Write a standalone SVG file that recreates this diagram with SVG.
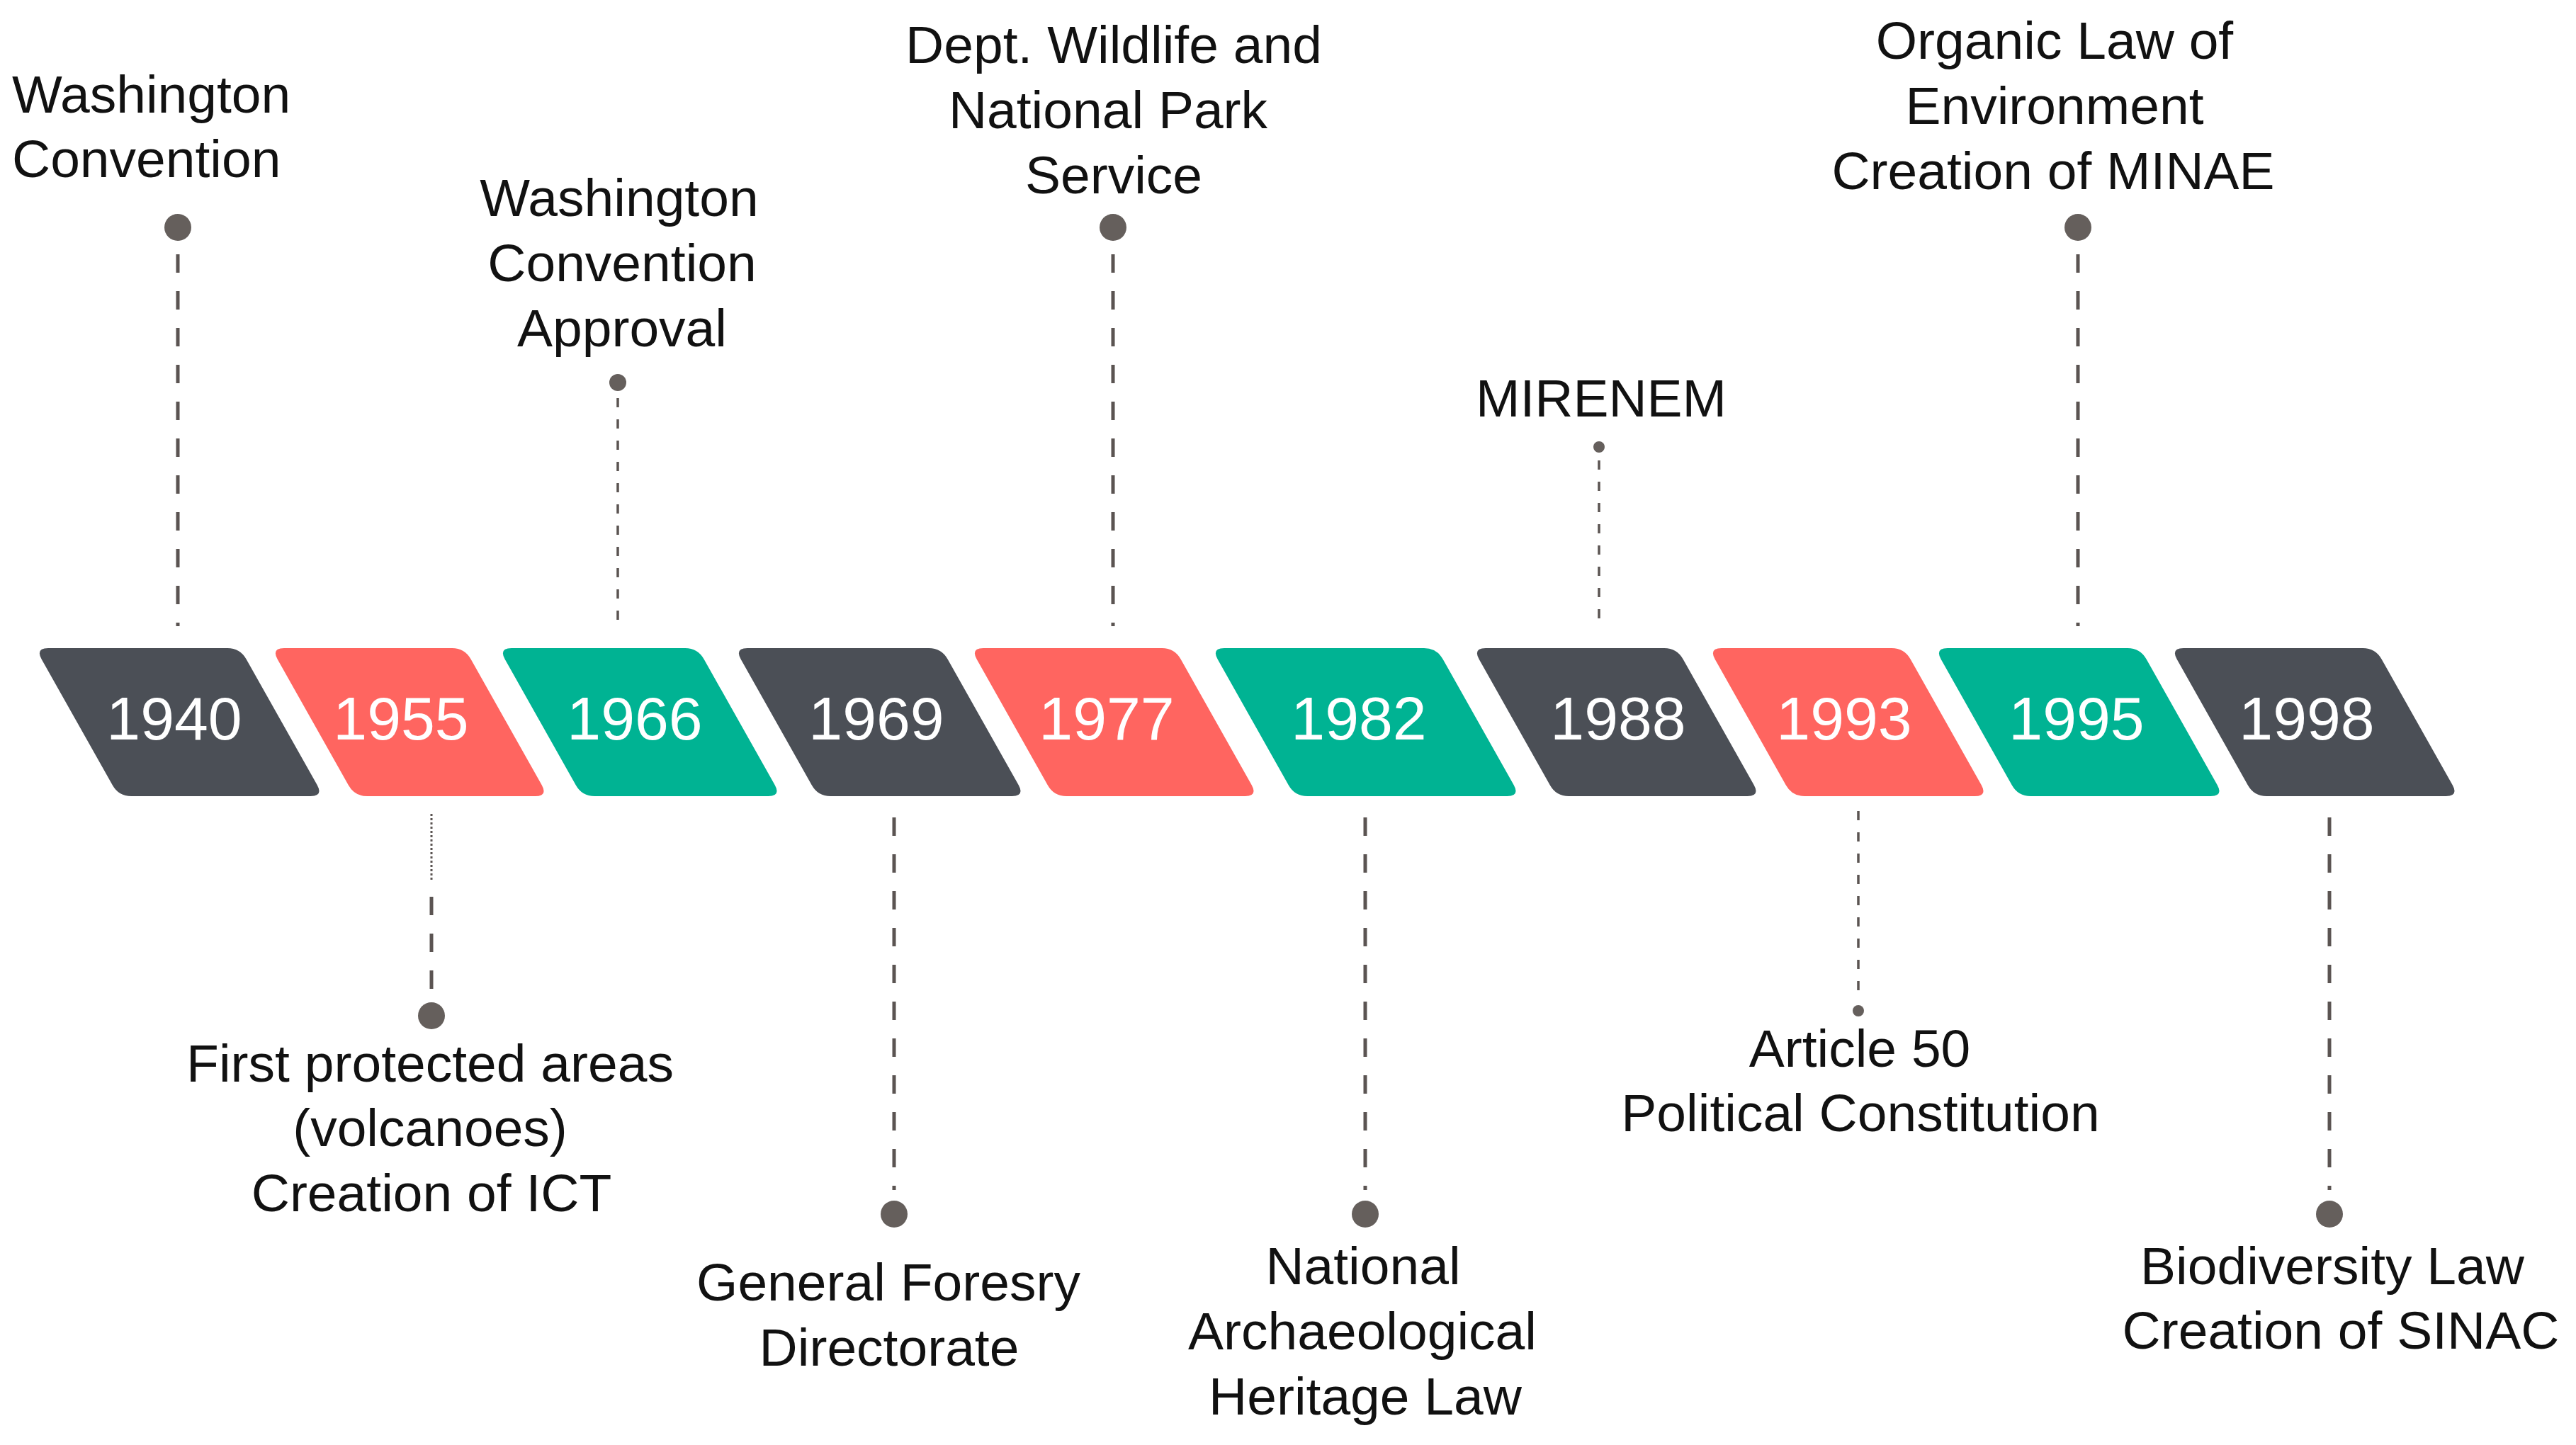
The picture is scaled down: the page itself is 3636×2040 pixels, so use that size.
<svg xmlns="http://www.w3.org/2000/svg" width="3636" height="2040" viewBox="0 0 3636 2040">
<style>
.dark{fill:#4b4f56}.red{fill:#ff6560}.teal{fill:#00b393}
.yr{font-family:"Liberation Sans",Arial,sans-serif;font-size:86px;fill:#ffffff;text-anchor:middle}
.lbl{font-family:"Liberation Sans",Arial,sans-serif;font-size:75px;fill:#111111;text-anchor:middle}
.thick{stroke:#5b5452;stroke-width:5;stroke-dasharray:26 26;fill:none}
.thin{stroke:#5b5452;stroke-width:3.5;stroke-dasharray:13 17;fill:none}
.fine{stroke:#5b5452;stroke-width:3;stroke-dasharray:3 3;fill:none}
.dot{fill:#655f5c}
</style>
<rect width="3636" height="2040" fill="#ffffff"/>
<g id="connectors">
<line class="thick" x1="251" y1="359" x2="251" y2="884"/>
<line class="thin" x1="872" y1="562" x2="872" y2="886"/>
<line class="thick" x1="1571" y1="359" x2="1571" y2="884"/>
<line class="thin" x1="2257" y1="650" x2="2257" y2="890"/>
<line class="thick" x1="2933" y1="359" x2="2933" y2="884"/>
<line class="fine" x1="609" y1="1149" x2="609" y2="1245"/>
<line class="thick" x1="609" y1="1266" x2="609" y2="1400"/>
<line class="thick" x1="1262" y1="1154" x2="1262" y2="1680"/>
<line class="thick" x1="1927" y1="1154" x2="1927" y2="1680"/>
<line class="thin" x1="2623" y1="1145" x2="2623" y2="1415"/>
<line class="thick" x1="3288" y1="1154" x2="3288" y2="1680"/>
<circle class="dot" cx="251" cy="321" r="19"/>
<circle class="dot" cx="872" cy="540" r="12"/>
<circle class="dot" cx="1571" cy="321" r="19"/>
<circle class="dot" cx="2257" cy="631" r="8"/>
<circle class="dot" cx="2933" cy="321" r="19"/>
<circle class="dot" cx="609" cy="1434" r="19"/>
<circle class="dot" cx="1262" cy="1714" r="19"/>
<circle class="dot" cx="1927" cy="1714" r="19"/>
<circle class="dot" cx="2623" cy="1427" r="8"/>
<circle class="dot" cx="3288" cy="1714" r="19"/>
</g>
<g id="y1940"><path class="dark" d="M68,915 h253 q18,0 26.7,15.8 l100,177.4 q8.7,15.8 -9.3,15.8 h-253 q-18,0 -26.7,-15.8 l-100,-177.4 q-8.7,-15.8 9.3,-15.8 z"/><text class="yr" x="246" y="1044">1940</text></g>
<g id="y1955"><path class="red" d="M401,915 h237 q18,0 26.7,15.8 l100,177.4 q8.7,15.8 -9.3,15.8 h-237 q-18,0 -26.7,-15.8 l-100,-177.4 q-8.7,-15.8 9.3,-15.8 z"/><text class="yr" x="566" y="1044">1955</text></g>
<g id="y1966"><path class="teal" d="M722,915 h245 q18,0 26.7,15.8 l100,177.4 q8.7,15.8 -9.3,15.8 h-245 q-18,0 -26.7,-15.8 l-100,-177.4 q-8.7,-15.8 9.3,-15.8 z"/><text class="yr" x="896" y="1044">1966</text></g>
<g id="y1969"><path class="dark" d="M1055,915 h256 q18,0 26.7,15.8 l100,177.4 q8.7,15.8 -9.3,15.8 h-256 q-18,0 -26.7,-15.8 l-100,-177.4 q-8.7,-15.8 9.3,-15.8 z"/><text class="yr" x="1237" y="1044">1969</text></g>
<g id="y1977"><path class="red" d="M1388,915 h252 q18,0 26.7,15.8 l100,177.4 q8.7,15.8 -9.3,15.8 h-252 q-18,0 -26.7,-15.8 l-100,-177.4 q-8.7,-15.8 9.3,-15.8 z"/><text class="yr" x="1562" y="1044">1977</text></g>
<g id="y1982"><path class="teal" d="M1728,915 h282 q18,0 26.7,15.8 l100,177.4 q8.7,15.8 -9.3,15.8 h-282 q-18,0 -26.7,-15.8 l-100,-177.4 q-8.7,-15.8 9.3,-15.8 z"/><text class="yr" x="1918" y="1044">1982</text></g>
<g id="y1988"><path class="dark" d="M2097,915 h252 q18,0 26.7,15.8 l100,177.4 q8.7,15.8 -9.3,15.8 h-252 q-18,0 -26.7,-15.8 l-100,-177.4 q-8.7,-15.8 9.3,-15.8 z"/><text class="yr" x="2284" y="1044">1988</text></g>
<g id="y1993"><path class="red" d="M2430,915 h240 q18,0 26.7,15.8 l100,177.4 q8.7,15.8 -9.3,15.8 h-240 q-18,0 -26.7,-15.8 l-100,-177.4 q-8.7,-15.8 9.3,-15.8 z"/><text class="yr" x="2603" y="1044">1993</text></g>
<g id="y1995"><path class="teal" d="M2749,915 h254 q18,0 26.7,15.8 l100,177.4 q8.7,15.8 -9.3,15.8 h-254 q-18,0 -26.7,-15.8 l-100,-177.4 q-8.7,-15.8 9.3,-15.8 z"/><text class="yr" x="2931" y="1044">1995</text></g>
<g id="y1998"><path class="dark" d="M3082,915 h253 q18,0 26.7,15.8 l100,177.4 q8.7,15.8 -9.3,15.8 h-253 q-18,0 -26.7,-15.8 l-100,-177.4 q-8.7,-15.8 9.3,-15.8 z"/><text class="yr" x="3256" y="1044">1998</text></g>
<g id="e1940"><text class="lbl" style="text-anchor:start" x="17" y="159">Washington</text><text class="lbl" style="text-anchor:start" x="17" y="250">Convention</text></g>
<g id="e1966"><text class="lbl" x="874" y="305">Washington</text><text class="lbl" x="878" y="397">Convention</text><text class="lbl" x="878" y="489">Approval</text></g>
<g id="e1977"><text class="lbl" x="1572" y="89">Dept. Wildlife and</text><text class="lbl" x="1564" y="181">National Park</text><text class="lbl" x="1572" y="273">Service</text></g>
<g id="e1988"><text class="lbl" x="2260" y="588">MIRENEM</text></g>
<g id="e1995"><text class="lbl" x="2900" y="83">Organic Law of</text><text class="lbl" x="2900" y="175">Environment</text><text class="lbl" x="2898" y="267">Creation of MINAE</text></g>
<g id="e1955"><text class="lbl" x="607" y="1527">First protected areas</text><text class="lbl" x="607" y="1618">(volcanoes)</text><text class="lbl" x="609" y="1710">Creation of ICT</text></g>
<g id="e1969"><text class="lbl" x="1254" y="1836">General Foresry</text><text class="lbl" x="1255" y="1928">Directorate</text></g>
<g id="e1982"><text class="lbl" x="1924" y="1813">National</text><text class="lbl" x="1923" y="1905">Archaeological</text><text class="lbl" x="1927" y="1997">Heritage Law</text></g>
<g id="e1993"><text class="lbl" x="2625" y="1506">Article 50</text><text class="lbl" x="2626" y="1597">Political Constitution</text></g>
<g id="e1998"><text class="lbl" x="3292" y="1813">Biodiversity Law</text><text class="lbl" x="3304" y="1904">Creation of SINAC</text></g>
</svg>
